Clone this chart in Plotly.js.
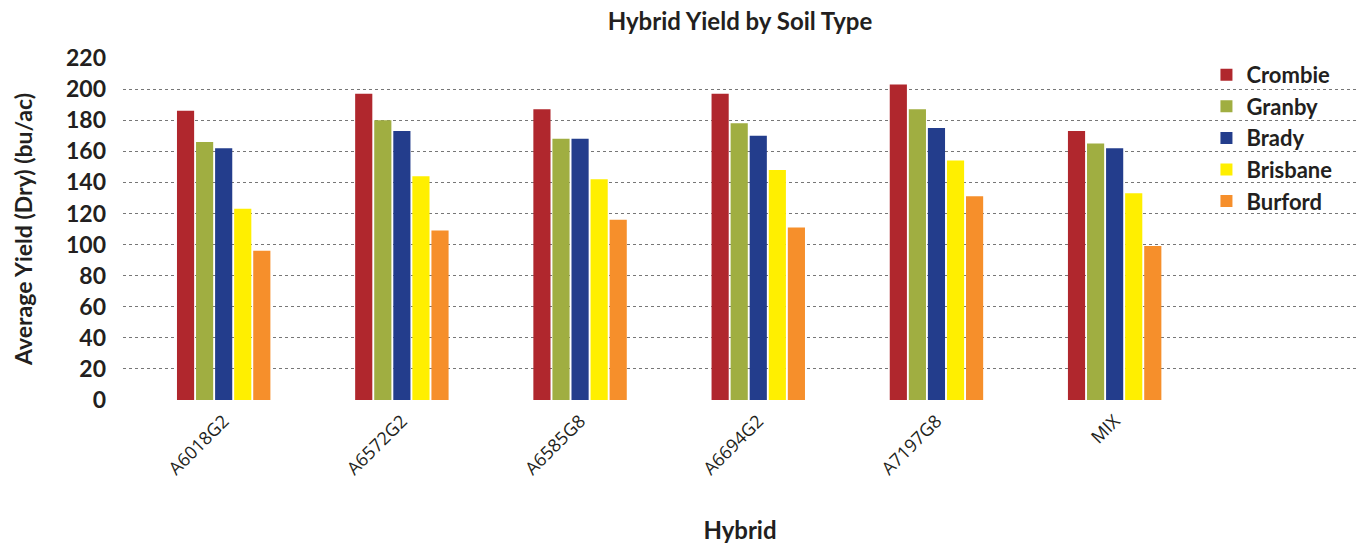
<!DOCTYPE html>
<html>
<head>
<meta charset="utf-8">
<script src="https://cdn.plot.ly/plotly-3.0.1.min.js"></script>
<style>html,body{margin:0;padding:0;background:#fff;}#chart{width:1359px;height:544px;}</style>
</head>
<body>
<div id="chart"></div>
<script>
const hybrids = ["A6018G2", "A6572G2", "A6585G8", "A6694G2", "A7197G8", "MIX"];
const seriesNames = ["Crombie", "Granby", "Brady", "Brisbane", "Burford"];
const crombie = [186, 197, 187, 197, 203, 173];
const granby = [166, 180, 168, 178, 187, 165];
const brady = [162, 173, 168, 170, 175, 162];
const brisbane = [123, 144, 142, 148, 154, 133];
const burford = [96, 109, 116, 111, 131, 99];
const yTicks = [0, 20, 40, 60, 80, 100, 120, 140, 160, 180, 200, 220];
const colors = ["#B0272D", "#A0AE41", "#233D8C", "#FFEF00", "#F68F2B"];

const values = [crombie, granby, brady, brisbane, burford];
const traces = seriesNames.map((name, i) => ({
  type: "bar",
  name: name,
  x: hybrids,
  y: values[i],
  marker: {color: colors[i]},
  hoverinfo: "x+y+name"
}));

const boldFont = "Lato, 'Noto Sans', sans-serif";
const layout = {
  width: 1359,
  height: 544,
  margin: {l: 123, r: 2, t: 58, b: 144},
  paper_bgcolor: "#fff",
  plot_bgcolor: "#fff",
  barmode: "group",
  bargap: 0.465,
  bargroupgap: 0.1,
  title: {
    text: "Hybrid Yield by Soil Type",
    font: {family: boldFont, size: 24, color: "#231f20", weight: "bold"},
    x: 0.5, xref: "paper", xanchor: "center",
    y: 0.96, yref: "container", yanchor: "middle"
  },
  xaxis: {
    type: "category",
    range: [-0.565, 6.36],
    tickangle: -45,
    tickfont: {family: "'Open Sans', 'Noto Sans', sans-serif", size: 18, color: "#231f20"},
    ticks: "",
    ticklabelstandoff: 6,
    showline: false,
    showgrid: false,
    zeroline: false,
    title: {
      text: "Hybrid",
      font: {family: boldFont, size: 24, color: "#231f20", weight: "bold"},
      standoff: 44
    }
  },
  yaxis: {
    range: [0, 220],
    tickvals: yTicks,
    ticktext: yTicks.map(String),
    tickfont: {family: boldFont, size: 23, color: "#231f20", weight: "bold"},
    ticks: "",
    ticklabelstandoff: 16,
    showline: false,
    showgrid: true,
    gridcolor: "#777",
    griddash: "dot",
    gridwidth: 1,
    zeroline: false,
    title: {
      text: "Average Yield (Dry) (bu/ac)",
      font: {family: boldFont, size: 23, color: "#231f20", weight: "bold"},
      standoff: 26
    }
  },
  legend: {
    x: 0.878, xanchor: "left",
    y: 1.012, yanchor: "top",
    bgcolor: "rgba(0,0,0,0)",
    font: {family: boldFont, size: 22, color: "#231f20", weight: "bold"},
    tracegroupgap: 0,
    itemwidth: 30
  },
  showlegend: true
};

Plotly.newPlot("chart", traces, layout, {displayModeBar: false, staticPlot: false});
</script>
</body>
</html>
